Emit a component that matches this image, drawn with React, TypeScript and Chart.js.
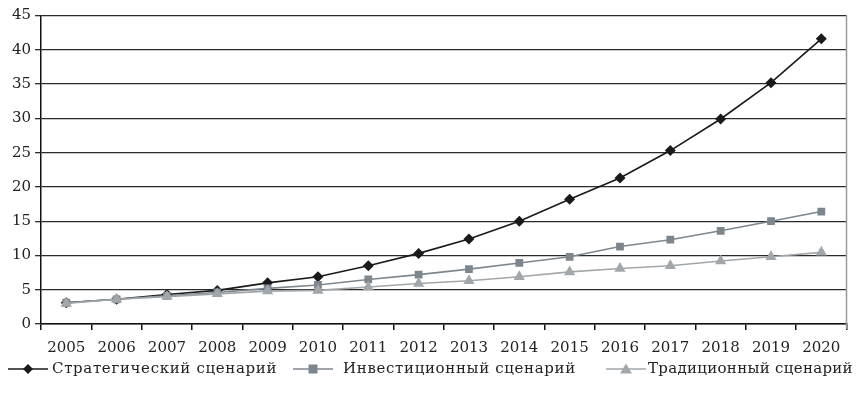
import React, { useEffect, useRef } from "react";
import { Chart, registerables } from "chart.js";

Chart.register(...registerables);

const years = ["2005", "2006", "2007", "2008", "2009", "2010", "2011", "2012", "2013", "2014", "2015", "2016", "2017", "2018", "2019", "2020"];
const strategic = [3.1, 3.6, 4.3, 4.9, 6.0, 6.9, 8.5, 10.3, 12.4, 15.0, 18.2, 21.3, 25.3, 29.9, 35.2, 41.6];
const investment = [3.1, 3.6, 4.1, 4.6, 5.2, 5.7, 6.5, 7.2, 8.0, 8.9, 9.8, 11.3, 12.3, 13.6, 15.0, 16.4];
const traditional = [3.0, 3.6, 4.0, 4.4, 4.8, 4.9, 5.4, 5.9, 6.3, 6.9, 7.6, 8.1, 8.5, 9.2, 9.8, 10.45];
const seriesNames = ["Стратегический сценарий", "Инвестиционный сценарий", "Традиционный сценарий"];

const C_STRAT = "#1a1a1a";
const C_INV = "#7e868d";
const C_TRAD = "#a2a7ab";
const FONT = "'DejaVu Serif', serif";

const rightBorder = {
  id: "rightBorder",
  afterDraw(chart: any) {
    const { ctx, chartArea } = chart;
    ctx.save();
    ctx.strokeStyle = "#9a9a9a";
    ctx.lineWidth = 1.5;
    ctx.beginPath();
    ctx.moveTo(chartArea.right, chartArea.top);
    ctx.lineTo(chartArea.right, chartArea.bottom + 5);
    ctx.stroke();
    ctx.restore();
  },
};

function Marker({ kind, color }: { kind: string; color: string }) {
  return (
    <svg width="40" height="14" style={{ display: "block" }}>
      <line x1="0" y1="7" x2="40" y2="7" stroke={color} strokeWidth="1.6" />
      {kind === "diamond" && <polygon points="20,2 25,7 20,12 15,7" fill={color} />}
      {kind === "square" && <rect x="15.5" y="2.5" width="9" height="9" fill={color} />}
      {kind === "triangle" && <polygon points="20,1.5 26,11.5 14,11.5" fill={color} />}
    </svg>
  );
}

export default function App() {
  const ref = useRef<HTMLCanvasElement | null>(null);
  useEffect(() => {
    if (!ref.current) return;
    const chart = new Chart(ref.current, {
      type: "line",
      data: {
        labels: years,
        datasets: [
          {
            label: seriesNames[0],
            data: strategic,
            borderColor: C_STRAT,
            backgroundColor: C_STRAT,
            borderWidth: 1.6,
            pointStyle: "rectRot",
            pointRadius: 5.5,
            pointBorderWidth: 0,
            order: 2,
          },
          {
            label: seriesNames[1],
            data: investment,
            borderColor: C_INV,
            backgroundColor: C_INV,
            borderWidth: 1.6,
            pointStyle: "rect",
            pointRadius: 5.5,
            pointBorderWidth: 0,
            order: 1,
          },
          {
            label: seriesNames[2],
            data: traditional,
            borderColor: C_TRAD,
            backgroundColor: C_TRAD,
            borderWidth: 1.6,
            pointStyle: "triangle",
            pointRadius: 6.5,
            pointBorderWidth: 0,
            order: 0,
          },
        ],
      },
      options: {
        animation: false,
        responsive: false,
        maintainAspectRatio: false,
        layout: { padding: { top: 0, right: 1, left: 0, bottom: 0 } },
        plugins: { legend: { display: false }, tooltip: { enabled: false } },
        scales: {
          x: {
            offset: true,
            grid: { offset: true, drawOnChartArea: false, drawTicks: true, tickLength: 6, color: "#111", lineWidth: 1.5 },
            border: { color: "#111", width: 1.5 },
            ticks: { color: "#222", font: { family: FONT, size: 15 }, padding: 9, maxRotation: 0, autoSkip: false },
          },
          y: {
            min: 0,
            max: 45,
            grid: { color: "#2a2a2a", lineWidth: 1.3, tickLength: 6 },
            border: { color: "#111", width: 1.5 },
            ticks: { stepSize: 5, color: "#222", font: { family: FONT, size: 15, lineHeight: 1 }, padding: 4 },
          },
        },
      },
      plugins: [rightBorder],
    });
    return () => chart.destroy();
  }, []);

  const items = [
    { kind: "diamond", color: C_STRAT, left: 0, textLeft: 44, ls: 0.65 },
    { kind: "square", color: C_INV, left: 285, textLeft: 335, ls: 0.65 },
    { kind: "triangle", color: C_TRAD, left: 598, textLeft: 640, ls: 0.3 },
  ];

  return (
    <div style={{ width: 845, fontFamily: FONT }}>
      <canvas ref={ref} width={845} height={362} style={{ display: "block", marginTop: -4 }} />
      <div style={{ position: "relative", height: 30, width: 845, marginTop: -5 }}>
        {items.map((it, i) => (
          <React.Fragment key={i}>
            <div style={{ position: "absolute", left: it.left, top: 1 }}>
              <Marker kind={it.kind} color={it.color} />
            </div>
            <div style={{ position: "absolute", left: it.textLeft, top: -2, fontSize: 15, letterSpacing: it.ls + "px", color: "#222", whiteSpace: "nowrap", lineHeight: "18px" }}>
              {seriesNames[i]}
            </div>
          </React.Fragment>
        ))}
      </div>
    </div>
  );
}
